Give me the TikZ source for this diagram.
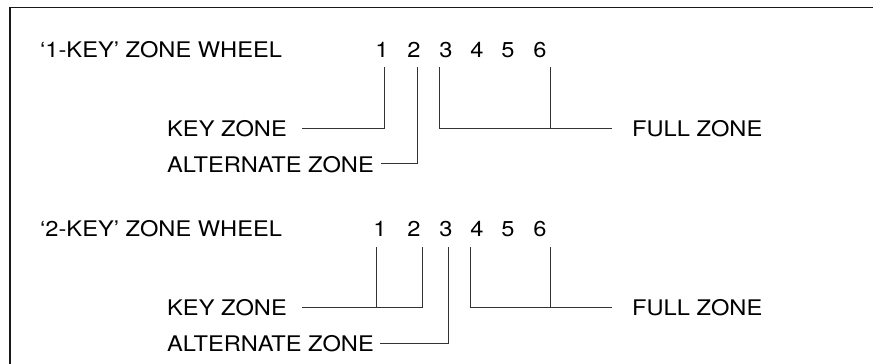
\documentclass[tikz,border=0pt]{standalone}
\usepackage{fontspec}
\setmainfont{TeX Gyre Heros}[FakeStretch=1.1]
\begin{document}
\begin{tikzpicture}[x=1pt,y=-1pt,
  lbl/.style={anchor=base west,inner sep=0pt,font=\fontsize{21.5}{24}\selectfont},
  dig/.style={anchor=base,inner sep=0pt,font=\fontsize{21.5}{24}\selectfont},
  conn/.style={line width=1pt,draw=black!80},
  frame/.style={line width=1.6pt,draw=black!90}]
\useasboundingbox (0,0) rectangle (873,364);
% frame
\coordinate (f1) at (10,364);
\coordinate (f2) at (10,7.5);
\coordinate (f3) at (873,7.5);
\draw[frame] (f1) -- (f2) -- (f3);

% ---------- row 1 ----------
\node[lbl] (t1) at (40,57) {‘1-KEY’ ZONE WHEEL};
\foreach \i/\x in {1/382,2/414,3/446,4/477,5/508,6/540}
  \node[dig] (a\i) at (\x,57) {\i};
\node[lbl] (k1) at (167,136) {KEY ZONE};
\node[lbl] (l1) at (167,172) {ALTERNATE ZONE};
\node[lbl] (u1) at (632,136.5) {FULL ZONE};
\coordinate (k1e) at (302,128);
\coordinate (a1t) at (384,67);
\coordinate (a1b) at (384,128);
\coordinate (l1e) at (381,163);
\coordinate (a2t) at (417,67);
\coordinate (a2b) at (417,163);
\coordinate (a3t) at (439,67);
\coordinate (a3b) at (439,128);
\coordinate (a6t) at (550,67);
\coordinate (a6b) at (550,128);
\coordinate (u1e) at (612,128);
\draw[conn] (k1e) -- (a1b) -- (a1t);
\draw[conn] (l1e) -- (a2b) -- (a2t);
\draw[conn] (a3t) -- (a3b) -- (u1e);
\draw[conn] (a6t) -- (a6b);

% ---------- row 2 ----------
\node[lbl] (t2) at (40,236) {‘2-KEY’ ZONE WHEEL};
\foreach \i/\x in {1/380,2/414,3/446,4/477,5/508,6/540}
  \node[dig] (b\i) at (\x,236) {\i};
\node[lbl] (k2) at (167,315) {KEY ZONE};
\node[lbl] (l2) at (167,351) {ALTERNATE ZONE};
\node[lbl] (u2) at (632,315.5) {FULL ZONE};
\coordinate (k2e) at (302,307);
\coordinate (b1t) at (376,247);
\coordinate (b1b) at (376,307);
\coordinate (b2t) at (422,247);
\coordinate (b2b) at (422,307);
\coordinate (l2e) at (380,343);
\coordinate (b3t) at (448,247);
\coordinate (b3b) at (448,343);
\coordinate (b4t) at (470,247);
\coordinate (b4b) at (470,307);
\coordinate (b6t) at (550,247);
\coordinate (b6b) at (550,307);
\coordinate (u2e) at (612,307);
\draw[conn] (k2e) -- (b2b) -- (b2t);
\draw[conn] (b1t) -- (b1b);
\draw[conn] (l2e) -- (b3b) -- (b3t);
\draw[conn] (b4t) -- (b4b) -- (u2e);
\draw[conn] (b6t) -- (b6b);
\end{tikzpicture}
\end{document}
